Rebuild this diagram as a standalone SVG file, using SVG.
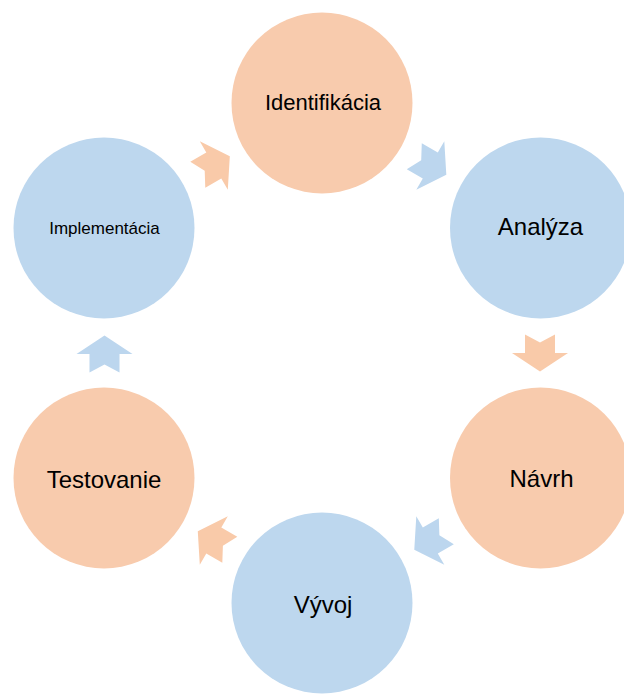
<svg xmlns="http://www.w3.org/2000/svg" width="624" height="695" viewBox="0 0 624 695">
<defs>
<style>
.o{fill:#F8CBAD}
.b{fill:#BDD7EE}
.ao{fill:#F9CAA9}
.ab{fill:#BCD6EE}
text{font-family:"Liberation Sans",Arial,sans-serif;fill:#000;text-anchor:middle}
.big{font-size:24px}
</style>
<polygon id="arr" points="18.5,0 0,-28 0,-15 -18.5,-15 -10.5,0 -18.5,15 0,15 0,28"/>
</defs>
<rect width="624" height="695" fill="#fff"/>
<g id="connectors">
<use href="#arr" class="ab" transform="translate(430.3,165.5) rotate(30)"/>
<use href="#arr" class="ao" transform="translate(540,353) rotate(90)"/>
<use href="#arr" class="ab" transform="translate(430.3,540.5) rotate(150)"/>
<use href="#arr" class="ao" transform="translate(213.8,540.5) rotate(210)"/>
<use href="#arr" class="ab" transform="translate(104.5,354) rotate(270)"/>
<use href="#arr" class="ao" transform="translate(213.8,165.5) rotate(330)"/>
</g>
<g id="identifikacia"><circle class="o" cx="322" cy="103" r="90.5"/><text x="323" y="110" font-size="22">Identifikácia</text></g>
<g id="analyza"><circle class="b" cx="540.5" cy="228" r="90.5"/><text class="big" x="540.5" y="235">Analýza</text></g>
<g id="navrh"><circle class="o" cx="540.5" cy="478" r="90.5"/><text class="big" x="541.5" y="487">Návrh</text></g>
<g id="vyvoj"><circle class="b" cx="322" cy="603" r="90.5"/><text class="big" x="323" y="613">Vývoj</text></g>
<g id="testovanie"><circle class="o" cx="104" cy="478" r="90.5"/><text class="big" x="104" y="488">Testovanie</text></g>
<g id="implementacia"><circle class="b" cx="104" cy="228" r="90.5"/><text x="104.5" y="234" font-size="17">Implementácia</text></g>
</svg>
